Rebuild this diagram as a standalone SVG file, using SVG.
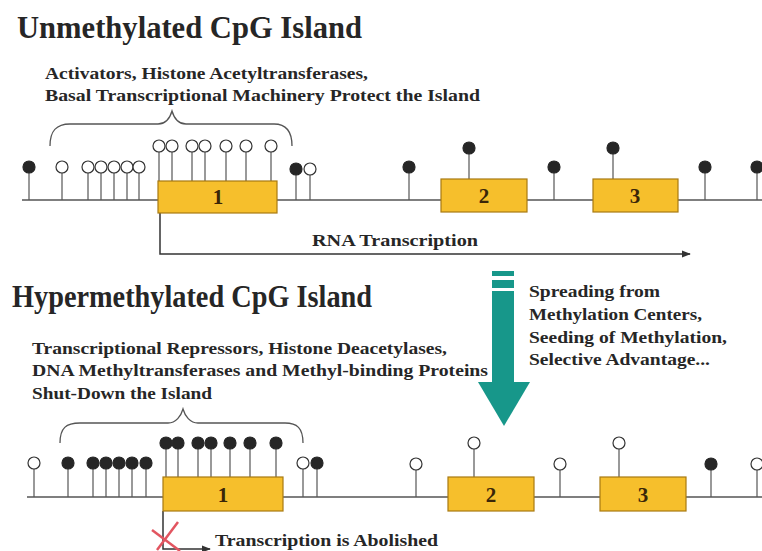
<svg xmlns="http://www.w3.org/2000/svg" width="762" height="551" viewBox="0 0 762 551">
<defs>
<style>
text{font-family:"Liberation Serif","Times New Roman",serif;font-weight:bold;fill:#262626}
.title{font-size:31px}
.sub{font-size:16.5px}
.num{font-size:21px;fill:#3a2608;text-anchor:middle}
.dna{stroke:#555;stroke-width:1.5;fill:none}
.stick{stroke:#555;stroke-width:1.2}
.f{fill:#262626;stroke:#262626;stroke-width:1.2}
.o{fill:#fff;stroke:#333;stroke-width:1.2}
.exon{fill:#f6bf2c;stroke:#a87a12;stroke-width:1.2}
.brace{fill:none;stroke:#555;stroke-width:1.3}
.conn{fill:none;stroke:#333;stroke-width:1.5}
.teal{fill:#17978a}
</style>
<marker id="ah" viewBox="0 0 10 10" refX="9" refY="5" markerWidth="6" markerHeight="6" orient="auto" markerUnits="strokeWidth">
<path d="M0,1 L10,5 L0,9 z" fill="#333"/>
</marker>
</defs>
<rect width="762" height="551" fill="#fff"/>

<g id="top-labels">
<text class="title" x="17" y="38" textLength="345" lengthAdjust="spacingAndGlyphs">Unmethylated CpG Island</text>
<text class="sub" x="45" y="79" textLength="323" lengthAdjust="spacingAndGlyphs">Activators, Histone Acetyltransferases,</text>
<text class="sub" x="45" y="101" textLength="435" lengthAdjust="spacingAndGlyphs">Basal Transcriptional Machinery Protect the Island</text>
</g>

<g id="connectors">
<path class="brace" d="M50,146 C50,131 56,124 70,124 L158,124 C166,124 170,118 172,111 C174,118 178,124 186,124 L274,124 C286,124 292,131 292,146"/>
<path class="brace" d="M60,443 C60,428 66,423 80,423 L168,423 C176,423 181,416 183,409 C185,416 190,423 198,423 L285,423 C297,423 303,428 303,443"/>
<polyline class="conn" points="160,213 160,254 690,254" marker-end="url(#ah)"/>
<polyline class="conn" points="163,511 163,549 210,549" marker-end="url(#ah)"/>
</g>

<g id="top-dna">
<line class="dna" x1="22" y1="200" x2="762" y2="200"/>
<g>
<line class="stick" x1="29" y1="167" x2="29" y2="200"/>
<line class="stick" x1="62" y1="167" x2="62" y2="200"/>
<line class="stick" x1="88" y1="167" x2="88" y2="200"/>
<line class="stick" x1="101" y1="167" x2="101" y2="200"/>
<line class="stick" x1="114" y1="167" x2="114" y2="200"/>
<line class="stick" x1="127" y1="167" x2="127" y2="200"/>
<line class="stick" x1="139" y1="167" x2="139" y2="200"/>
<line class="stick" x1="159" y1="146" x2="159" y2="181"/>
<line class="stick" x1="172" y1="146" x2="172" y2="181"/>
<line class="stick" x1="192" y1="146" x2="192" y2="181"/>
<line class="stick" x1="205" y1="146" x2="205" y2="181"/>
<line class="stick" x1="226" y1="146" x2="226" y2="181"/>
<line class="stick" x1="246" y1="146" x2="246" y2="181"/>
<line class="stick" x1="271" y1="146" x2="271" y2="181"/>
<line class="stick" x1="296" y1="169" x2="296" y2="200"/>
<line class="stick" x1="310" y1="169" x2="310" y2="200"/>
<line class="stick" x1="409" y1="167" x2="409" y2="200"/>
<line class="stick" x1="469" y1="148" x2="469" y2="179"/>
<line class="stick" x1="554" y1="167" x2="554" y2="200"/>
<line class="stick" x1="613" y1="148" x2="613" y2="179"/>
<line class="stick" x1="705" y1="167" x2="705" y2="200"/>
<line class="stick" x1="757" y1="167" x2="757" y2="200"/>
</g>
<circle class="f" cx="29" cy="167" r="6"/>
<circle class="o" cx="62" cy="167" r="6"/>
<circle class="o" cx="88" cy="167" r="6"/>
<circle class="o" cx="101" cy="167" r="6"/>
<circle class="o" cx="114" cy="167" r="6"/>
<circle class="o" cx="127" cy="167" r="6"/>
<circle class="o" cx="139" cy="167" r="6"/>
<circle class="o" cx="159" cy="146" r="6"/>
<circle class="o" cx="172" cy="146" r="6"/>
<circle class="o" cx="192" cy="146" r="6"/>
<circle class="o" cx="205" cy="146" r="6"/>
<circle class="o" cx="226" cy="146" r="6"/>
<circle class="o" cx="246" cy="146" r="6"/>
<circle class="o" cx="271" cy="146" r="6"/>
<circle class="f" cx="296" cy="169" r="6"/>
<circle class="o" cx="310" cy="169" r="6"/>
<circle class="f" cx="409" cy="167" r="6"/>
<circle class="f" cx="469" cy="148" r="6"/>
<circle class="f" cx="554" cy="167" r="6"/>
<circle class="f" cx="613" cy="148" r="6"/>
<circle class="f" cx="705" cy="167" r="6"/>
<circle class="f" cx="757" cy="167" r="6"/>
</g>

<g id="top-exon1">
<rect class="exon" x="158" y="181" width="119" height="32"/>
<text class="num" x="218" y="204">1</text>
</g>
<g id="top-exon2">
<rect class="exon" x="441" y="179" width="86" height="33"/>
<text class="num" x="484" y="203">2</text>
</g>
<g id="top-exon3">
<rect class="exon" x="593" y="179" width="85" height="33"/>
<text class="num" x="635" y="203">3</text>
</g>
<g id="rna-label">
<text class="sub" x="312" y="246" textLength="166" lengthAdjust="spacingAndGlyphs">RNA Transcription</text>
</g>

<g id="arrow">
<rect class="teal" x="492" y="271" width="22" height="5"/>
<rect class="teal" x="492" y="280" width="22" height="8"/>
<rect class="teal" x="492" y="291" width="22" height="92"/>
<polygon class="teal" points="478,382 530,382 504,426"/>
</g>
<g id="arrow-label">
<text class="sub" x="529" y="297" textLength="131" lengthAdjust="spacingAndGlyphs">Spreading from</text>
<text class="sub" x="529" y="320" textLength="173" lengthAdjust="spacingAndGlyphs">Methylation Centers,</text>
<text class="sub" x="529" y="343" textLength="198" lengthAdjust="spacingAndGlyphs">Seeding of Methylation,</text>
<text class="sub" x="529" y="365" textLength="181" lengthAdjust="spacingAndGlyphs">Selective Advantage...</text>
</g>

<g id="bottom-labels">
<text class="title" x="12" y="307" textLength="360" lengthAdjust="spacingAndGlyphs">Hypermethylated CpG Island</text>
<text class="sub" x="32" y="354" textLength="415" lengthAdjust="spacingAndGlyphs">Transcriptional Repressors, Histone Deacetylases,</text>
<text class="sub" x="32" y="376" textLength="456" lengthAdjust="spacingAndGlyphs">DNA Methyltransferases and Methyl-binding Proteins</text>
<text class="sub" x="32" y="399" textLength="180" lengthAdjust="spacingAndGlyphs">Shut-Down the Island</text>
</g>

<g id="bottom-dna">
<line class="dna" x1="27" y1="497" x2="762" y2="497"/>
<g>
<line class="stick" x1="34" y1="463" x2="34" y2="497"/>
<line class="stick" x1="68" y1="463" x2="68" y2="497"/>
<line class="stick" x1="93" y1="463" x2="93" y2="497"/>
<line class="stick" x1="106" y1="463" x2="106" y2="497"/>
<line class="stick" x1="119" y1="463" x2="119" y2="497"/>
<line class="stick" x1="132" y1="463" x2="132" y2="497"/>
<line class="stick" x1="146" y1="463" x2="146" y2="497"/>
<line class="stick" x1="166" y1="443" x2="166" y2="477"/>
<line class="stick" x1="178" y1="443" x2="178" y2="477"/>
<line class="stick" x1="198" y1="443" x2="198" y2="477"/>
<line class="stick" x1="211" y1="443" x2="211" y2="477"/>
<line class="stick" x1="230" y1="443" x2="230" y2="477"/>
<line class="stick" x1="250" y1="443" x2="250" y2="477"/>
<line class="stick" x1="276" y1="443" x2="276" y2="477"/>
<line class="stick" x1="303" y1="463" x2="303" y2="497"/>
<line class="stick" x1="317" y1="463" x2="317" y2="497"/>
<line class="stick" x1="416" y1="464" x2="416" y2="497"/>
<line class="stick" x1="474" y1="443" x2="474" y2="477"/>
<line class="stick" x1="560" y1="464" x2="560" y2="497"/>
<line class="stick" x1="619" y1="443" x2="619" y2="477"/>
<line class="stick" x1="711" y1="464" x2="711" y2="497"/>
<line class="stick" x1="757" y1="464" x2="757" y2="497"/>
</g>
<circle class="o" cx="34" cy="463" r="6"/>
<circle class="f" cx="68" cy="463" r="6"/>
<circle class="f" cx="93" cy="463" r="6"/>
<circle class="f" cx="106" cy="463" r="6"/>
<circle class="f" cx="119" cy="463" r="6"/>
<circle class="f" cx="132" cy="463" r="6"/>
<circle class="f" cx="146" cy="463" r="6"/>
<circle class="f" cx="166" cy="443" r="6"/>
<circle class="f" cx="178" cy="443" r="6"/>
<circle class="f" cx="198" cy="443" r="6"/>
<circle class="f" cx="211" cy="443" r="6"/>
<circle class="f" cx="230" cy="443" r="6"/>
<circle class="f" cx="250" cy="443" r="6"/>
<circle class="f" cx="276" cy="443" r="6"/>
<circle class="o" cx="303" cy="463" r="6"/>
<circle class="f" cx="317" cy="463" r="6"/>
<circle class="o" cx="416" cy="464" r="6"/>
<circle class="o" cx="474" cy="443" r="6"/>
<circle class="o" cx="560" cy="464" r="6"/>
<circle class="o" cx="619" cy="443" r="6"/>
<circle class="f" cx="711" cy="464" r="6"/>
<circle class="o" cx="757" cy="464" r="6"/>
</g>

<g id="bottom-exon1">
<rect class="exon" x="163" y="477" width="120" height="34"/>
<text class="num" x="223" y="502">1</text>
</g>
<g id="bottom-exon2">
<rect class="exon" x="448" y="477" width="86" height="34"/>
<text class="num" x="491" y="502">2</text>
</g>
<g id="bottom-exon3">
<rect class="exon" x="600" y="477" width="86" height="34"/>
<text class="num" x="643" y="502">3</text>
</g>

<g id="abolished">
<line x1="178" y1="522" x2="157" y2="550" stroke="#e25560" stroke-width="2.5"/>
<line x1="152" y1="530" x2="180" y2="551" stroke="#e25560" stroke-width="2.5"/>
<text class="sub" x="215" y="546" textLength="223" lengthAdjust="spacingAndGlyphs">Transcription is Abolished</text>
</g>
</svg>
